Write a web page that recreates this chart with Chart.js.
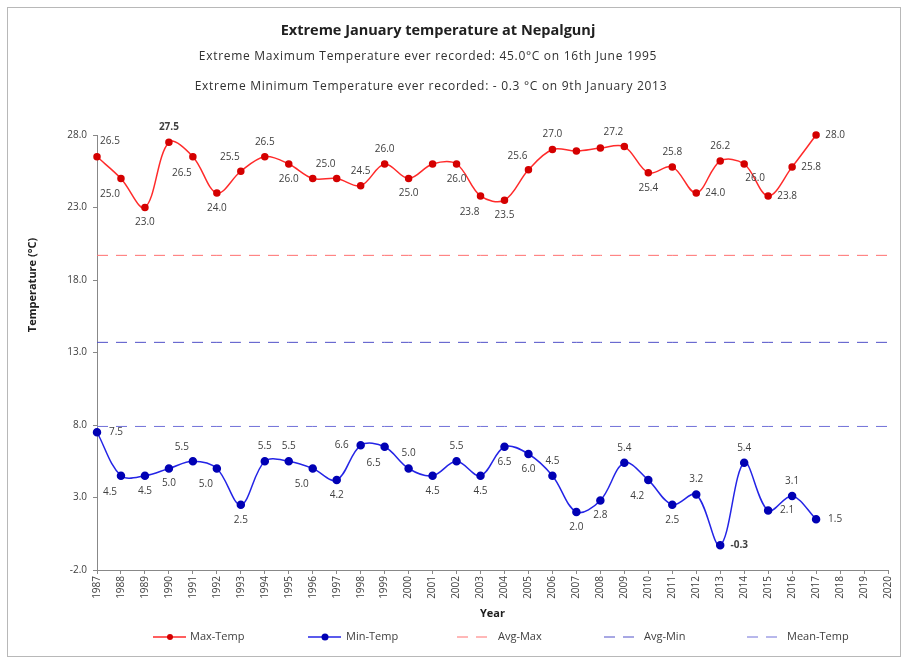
<!DOCTYPE html>
<html>
<head>
<meta charset="utf-8">
<title>Extreme January temperature at Nepalgunj</title>
<script src="https://cdn.jsdelivr.net/npm/chart.js@4.4.1/dist/chart.umd.min.js"></script>
<style>
    html, body { margin: 0; padding: 0; background: #fff; }
    #wrap { width: 903px; height: 660px; }
</style>
</head>
<body>
<div id="wrap"><canvas id="chart" width="903" height="660"></canvas></div>
<script>
// Data
const years = ['1987', '1988', '1989', '1990', '1991', '1992', '1993', '1994', '1995', '1996',
    '1997', '1998', '1999', '2000', '2001', '2002', '2003', '2004', '2005', '2006',
    '2007', '2008', '2009', '2010', '2011', '2012', '2013', '2014', '2015', '2016',
    '2017', '2018', '2019', '2020'];

const maxTemp = [26.5, 25.0, 23.0, 27.5, 26.5, 24.0, 25.5, 26.5, 26.0, 25.0,
    25.0, 24.5, 26.0, 25.0, 26.0, 26.0, 23.8, 23.5, 25.6, 27.0,
    26.9, 27.1, 27.2, 25.4, 25.8, 24.0, 26.2, 26.0, 23.8, 25.8,
    28.0, null, null, null];

const minTemp = [7.5, 4.5, 4.5, 5.0, 5.5, 5.0, 2.5, 5.5, 5.5, 5.0,
    4.2, 6.6, 6.5, 5.0, 4.5, 5.5, 4.5, 6.5, 6.0, 4.5,
    2.0, 2.8, 5.4, 4.2, 2.5, 3.2, -0.3, 5.4, 2.1, 3.1,
    1.5, null, null, null];

const avgMax = 19.7;
const avgMin = 13.7;
const meanTemp = 7.9;

// y axis range / tick step
const yMin = -2;
const yMax = 28;
const yStep = 5;

// where each value label sits relative to its point (null = no label)
const maxLabelPos = ['ar', 'bl', 'b', 'a', 'bl', 'b', 'al', 'a', 'b', null,
    'al', 'a', 'a', 'b', null, 'b', 'bl', 'b', 'al', 'a',
    null, null, 'al', 'b', 'a', 'r', 'a', 'br', 'r', 'r',
    'r', null, null, null];
const minLabelPos = ['r', 'bl', 'b', 'b', 'al', 'bl', 'b', 'a', 'a', 'bl',
    'b', 'l', 'bl', 'a', 'b', 'a', 'b', 'b', 'b', 'a',
    'b', 'b', 'a', 'bl', 'b', 'a', 'r', 'a', 'r', 'a',
    'r', null, null, null];

const titleText = 'Extreme January temperature at Nepalgunj';
const subTitles = [
    'Extreme Maximum Temperature ever recorded: 45.0\u00b0C on 16th June 1995',
    'Extreme Minimum Temperature ever recorded: - 0.3 \u00b0C on 9th January 2013'
];

const FONT = '"Open Sans", "DejaVu Sans", sans-serif';
const TEXT_COLOR = '#404040';

const LABEL_OFFSETS = {
    a: [0, -15], b: [0, 15], l: [-19, 0], r: [19, 0],
    al: [-11, -14], ar: [13, -16], bl: [-11, 16], br: [11, 14]
};

/**
 * White background and thin frame
 */
const framePlugin = {
    id: 'frame',
    beforeDraw(chart) {
        const ctx = chart.ctx;
        ctx.save();
        ctx.fillStyle = '#fff';
        ctx.fillRect(0, 0, chart.width, chart.height);
        ctx.strokeStyle = '#b8b8b8';
        ctx.lineWidth = 1;
        ctx.strokeRect(7.5, 7.5, 893, 649);
        ctx.restore();
    }
};

/**
 * Value labels next to the points
 */
const pointLabelsPlugin = {
    id: 'pointLabels',
    afterDatasetsDraw(chart) {
        const ctx = chart.ctx;
        chart.data.datasets.forEach((ds, di) => {
            if (!ds.labelPos) return;
            const meta = chart.getDatasetMeta(di);
            meta.data.forEach((pt, i) => {
                const pos = ds.labelPos[i];
                if (!pos || ds.data[i] == null) return;
                const [dx, dy] = LABEL_OFFSETS[pos];
                ctx.save();
                ctx.font = (i === ds.boldIndex ? 'bold ' : '') + '10px ' + FONT;
                ctx.fillStyle = TEXT_COLOR;
                ctx.textAlign = 'center';
                ctx.textBaseline = 'middle';
                ctx.fillText(ds.data[i].toFixed(1), pt.x + dx, pt.y + dy);
                ctx.restore();
            });
        });
    }
};

/**
 * Titles, y axis title and legend
 */
const textPlugin = {
    id: 'chartText',
    afterDraw(chart) {
        const ctx = chart.ctx;
        ctx.save();
        ctx.fillStyle = '#202020';
        ctx.textAlign = 'center';
        ctx.textBaseline = 'middle';

        ctx.font = 'bold 14.5px ' + FONT;
        ctx.fillText(titleText, 438, 31);

        ctx.fillStyle = '#303030';
        ctx.font = '12px ' + FONT;
        ctx.letterSpacing = '0.7px';
        ctx.fillText(subTitles[0], 428, 57);
        ctx.fillText(subTitles[1], 431, 87);
        ctx.letterSpacing = '0px';

        // y axis title
        ctx.save();
        ctx.translate(33, 285);
        ctx.rotate(-Math.PI / 2);
        ctx.font = 'bold 11px ' + FONT;
        ctx.fillStyle = '#202020';
        ctx.fillText('Temperature (\u00b0C)', 0, 0);
        ctx.restore();

        // legend
        const legendY = 637;
        const items = [
            { x: 153, textX: 190 },
            { x: 308, textX: 346 },
            { x: 457, textX: 498 },
            { x: 604, textX: 644 },
            { x: 747, textX: 787 }
        ];
        chart.data.datasets.forEach((ds, i) => {
            const it = items[i];
            ctx.save();
            ctx.strokeStyle = ds.borderColor;
            ctx.lineWidth = ds.borderWidth;
            ctx.setLineDash(ds.borderDash || []);
            ctx.beginPath();
            ctx.moveTo(it.x, legendY);
            ctx.lineTo(it.x + 33, legendY);
            ctx.stroke();
            if (ds.pointRadius > 0) {
                ctx.setLineDash([]);
                ctx.fillStyle = ds.pointBackgroundColor;
                ctx.beginPath();
                ctx.arc(it.x + 17, legendY, ds.pointRadius, 0, Math.PI * 2);
                ctx.fill();
            }
            ctx.fillStyle = TEXT_COLOR;
            ctx.font = '11px ' + FONT;
            ctx.textAlign = 'left';
            ctx.fillText(ds.label, it.textX, legendY);
            ctx.restore();
        });
        ctx.restore();
    }
};

const flat = v => years.map(() => v);

const ctx = document.getElementById('chart').getContext('2d');

new Chart(ctx, {
    type: 'line',
    data: {
        labels: years,
        datasets: [{
            label: 'Max-Temp',
            data: maxTemp,
            borderColor: '#ff2a2a',
            borderWidth: 1.5,
            pointRadius: 3,
            pointBackgroundColor: '#d40000',
            pointBorderColor: '#d40000',
            tension: 0.35,
            clip: false,
            labelPos: maxLabelPos,
            boldIndex: 3
        }, {
            label: 'Min-Temp',
            data: minTemp,
            borderColor: '#2424e6',
            borderWidth: 1.5,
            pointRadius: 3.5,
            pointBackgroundColor: '#0000b4',
            pointBorderColor: '#0000b4',
            tension: 0.35,
            clip: false,
            labelPos: minLabelPos,
            boldIndex: 26
        }, {
            label: 'Avg-Max',
            data: flat(avgMax),
            borderColor: '#ff7070',
            borderWidth: 1,
            borderDash: [11, 8],
            pointRadius: 0
        }, {
            label: 'Avg-Min',
            data: flat(avgMin),
            borderColor: '#5050c8',
            borderWidth: 1,
            borderDash: [11, 8],
            pointRadius: 0
        }, {
            label: 'Mean-Temp',
            data: flat(meanTemp),
            borderColor: '#7070d8',
            borderWidth: 1,
            borderDash: [11, 8],
            pointRadius: 0
        }]
    },
    options: {
        responsive: false,
        animation: false,
        events: [],
        layout: {
            padding: { top: 135, right: 15, bottom: 40, left: 0 }
        },
        scales: {
            x: {
                offset: false,
                afterFit(scale) { scale.height = 50; },
                grid: {
                    drawOnChartArea: false,
                    drawTicks: true,
                    tickLength: 4,
                    color: '#888'
                },
                border: { color: '#888' },
                ticks: {
                    autoSkip: false,
                    minRotation: 90,
                    maxRotation: 90,
                    padding: 2,
                    color: TEXT_COLOR,
                    font: { family: FONT, size: 10 }
                },
                title: {
                    display: true,
                    text: 'Year',
                    color: '#202020',
                    padding: 0,
                    font: { family: FONT, size: 11, weight: 'bold' }
                }
            },
            y: {
                min: yMin,
                max: yMax,
                afterFit(scale) { scale.width = 97; },
                grid: {
                    drawOnChartArea: false,
                    drawTicks: true,
                    tickLength: 4,
                    color: '#888'
                },
                border: { color: '#888' },
                ticks: {
                    stepSize: yStep,
                    padding: 6,
                    color: TEXT_COLOR,
                    font: { family: FONT, size: 10 },
                    callback: value => value.toFixed(1)
                }
            }
        },
        plugins: {
            legend: { display: false },
            tooltip: { enabled: false }
        }
    },
    plugins: [framePlugin, pointLabelsPlugin, textPlugin]
});
</script>
</body>
</html>
